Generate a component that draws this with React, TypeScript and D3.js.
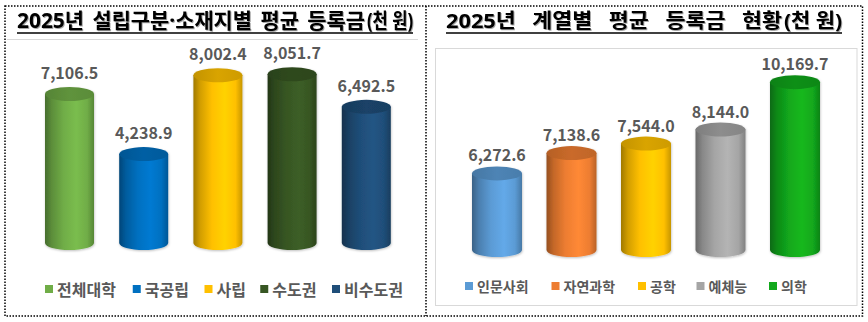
import React from "react";
import * as d3 from "d3";

// ---- data ----
const leftTitle = "2025년 설립구분·소재지별 평균 등록금(천 원)";
const leftCategories = ["전체대학", "국공립", "사립", "수도권", "비수도권"];
const leftValues = [7106.5, 4238.9, 8002.4, 8051.7, 6492.5];
const leftColors = ["#70AD47", "#0070C0", "#FFC000", "#375623", "#1F4E79"];

const rightTitle = "2025년 계열별 평균 등록금 현황(천 원)";
const rightCategories = ["인문사회", "자연과학", "공학", "예체능", "의학"];
const rightValues = [6272.6, 7138.6, 7544.0, 8144.0, 10169.7];
const rightColors = ["#5B9BD5", "#ED7D31", "#FFC000", "#A5A5A5", "#12A81C"];

const FONT = "'Noto Sans CJK KR', 'Noto Sans', sans-serif";
const TITLE_FONT = "'Noto Sans', 'Noto Sans CJK KR', sans-serif";
const fmt = d3.format(",.1f");

type PanelCfg = {
  id: string;
  title: string;
  titleX: number;
  titleW: number;
  titleTailW: number;
  titleFont: number;
  titleWordSpacing: number;
  categories: string[];
  values: number[];
  colors: string[];
  xRange: [number, number];
  yDomain: [number, number];
  yRange: [number, number];
  barW: number;
  ry: number;
  labelGap: number;
  legendY: number;
  legendX: number;
  legendFont: number;
  legendGap: number;
};

function Cylinder({ cx, yTop, yBot, w, ry, color, id }: any) {
  const rx = w / 2;
  const x0 = cx - rx;
  const x1 = cx + rx;
  const dark = (k: number) => (d3.color(color) as any).darker(k).formatHex();
  const bright = (k: number) => (d3.color(color) as any).brighter(k).formatHex();
  const body = `M${x0},${yTop} L${x0},${yBot} A${rx},${ry} 0 0 0 ${x1},${yBot} L${x1},${yTop} Z`;
  return (
    <g filter="url(#shadow)">
      <defs>
        <linearGradient id={`g-${id}`} x1="0" x2="1" y1="0" y2="0">
          <stop offset="0" stopColor={dark(1.3)} />
          <stop offset="0.14" stopColor={dark(0.55)} />
          <stop offset="0.38" stopColor={color} />
          <stop offset="0.64" stopColor={bright(0.25)} />
          <stop offset="0.86" stopColor={color} />
          <stop offset="1" stopColor={dark(0.7)} />
        </linearGradient>
        <linearGradient id={`t-${id}`} x1="0" x2="1" y1="0" y2="0">
          <stop offset="0" stopColor={dark(0.75)} />
          <stop offset="0.5" stopColor={dark(0.45)} />
          <stop offset="1" stopColor={dark(0.6)} />
        </linearGradient>
      </defs>
      <path d={body} fill={`url(#g-${id})`} />
      <ellipse cx={cx} cy={yTop} rx={rx} ry={ry} fill={`url(#t-${id})`} />
    </g>
  );
}

function Panel({ cfg }: { cfg: PanelCfg }) {
  const x = d3.scalePoint<string>().domain(cfg.categories).range(cfg.xRange).padding(0.5);
  const y = d3.scaleLinear().domain(cfg.yDomain).range(cfg.yRange);
  const yBase = y(cfg.yDomain[0]);
  let cur = cfg.legendX;
  const legendItems = cfg.categories.map((c, i) => {
    const sx = cur;
    const tw = c.length * cfg.legendFont;
    cur += 12 + tw + cfg.legendGap;
    return { c, sx, color: cfg.colors[i] };
  });
  const cut = cfg.title.indexOf("(");
  const head = cfg.title.slice(0, cut);
  const tail = cfg.title.slice(cut);
  const headW = cfg.titleW - cfg.titleTailW - 2;
  const tProps = {
    y: 28,
    fill: "#000",
    fontFamily: TITLE_FONT,
    fontWeight: 700,
    fontSize: cfg.titleFont,
    lengthAdjust: "spacingAndGlyphs",
    filter: "url(#tshadow)",
  };
  return (
    <g>
      <text x={cfg.titleX} textLength={headW} {...(tProps as any)} style={{ whiteSpace: "pre", wordSpacing: `${cfg.titleWordSpacing}px` }}>
        {head}
      </text>
      <text x={cfg.titleX + cfg.titleW - cfg.titleTailW} textLength={cfg.titleTailW} {...(tProps as any)} style={{ whiteSpace: "pre" }}>
        {tail}
      </text>
      <line x1={cfg.titleX} x2={cfg.titleX + cfg.titleW} y1={33} y2={33} stroke="#000" strokeWidth={1.6} />
      {cfg.values.map((v, i) => {
        const cat = cfg.categories[i];
        const cx = x(cat)!;
        const yt = y(v);
        return (
          <g key={cat}>
            <Cylinder cx={cx} yTop={yt} yBot={yBase} w={cfg.barW} ry={cfg.ry} color={cfg.colors[i]} id={`${cfg.id}${i}`} />
            <text
              x={cx}
              y={yt - cfg.ry - cfg.labelGap}
              textAnchor="middle"
              fontFamily={FONT}
              fontWeight={700}
              fontSize={16}
              fill="#595959"
            >
              {fmt(v)}
            </text>
          </g>
        );
      })}
      {legendItems.map((it) => (
        <g key={it.c}>
          <rect x={it.sx} y={cfg.legendY - 4} width={8} height={8} fill={it.color} />
          <text
            x={it.sx + 12}
            y={cfg.legendY}
            dominantBaseline="central"
            fontFamily={FONT}
            fontWeight={700}
            fontSize={cfg.legendFont}
            fill="#595959"
          >
            {it.c}
          </text>
        </g>
      ))}
    </g>
  );
}

const leftCfg: PanelCfg = {
  id: "L",
  title: leftTitle,
  titleX: 17,
  titleW: 396,
  titleTailW: 46,
  titleFont: 21,
  titleWordSpacing: 3,
  categories: leftCategories,
  values: leftValues,
  colors: leftColors,
  xRange: [32.4, 403.4],
  yDomain: [0, 9000],
  yRange: [243, 54.3],
  barW: 49,
  ry: 7,
  labelGap: 8,
  legendY: 289,
  legendX: 45,
  legendFont: 16,
  legendGap: 11.75,
};

const rightCfg: PanelCfg = {
  id: "R",
  title: rightTitle,
  titleX: 446,
  titleW: 396,
  titleTailW: 58,
  titleFont: 20,
  titleWordSpacing: 10,
  categories: rightCategories,
  values: rightValues,
  colors: rightColors,
  xRange: [459.75, 832.25],
  yDomain: [3000, 12000],
  yRange: [250, 39.3],
  barW: 50,
  ry: 7,
  labelGap: 5,
  legendY: 286,
  legendX: 465,
  legendFont: 14,
  legendGap: 18.5,
};

export default function App() {
  return (
    <svg width={868} height={322} style={{ position: "absolute", left: 0, top: 0, background: "#fff" }}>
      <defs>
        <filter id="shadow" x="-20%" y="-10%" width="140%" height="130%">
          <feDropShadow dx="0.5" dy="1" stdDeviation="1.2" floodColor="#000" floodOpacity="0.25" />
        </filter>
        <filter id="tshadow" x="-5%" y="-30%" width="110%" height="160%">
          <feDropShadow dx="1" dy="1" stdDeviation="0.4" floodColor="#000" floodOpacity="0.35" />
        </filter>
      </defs>
      <rect width={868} height={322} fill="#fff" />
      <line x1={7} x2={418} y1={39.5} y2={39.5} stroke="#D9D9D9" strokeWidth={1} />
      <rect x={435.5} y={48.5} width={421.5} height={257} fill="none" stroke="#D9D9D9" strokeWidth={1} />
      <rect x={5} y={6} width={857.5} height={310} fill="none" stroke="#000" strokeWidth={1.5} strokeDasharray="1.5 1.5" />
      <line x1={426} x2={426} y1={6} y2={316} stroke="#000" strokeWidth={1.5} strokeDasharray="1.5 1.5" />
      <Panel cfg={leftCfg} />
      <Panel cfg={rightCfg} />
    </svg>
  );
}
